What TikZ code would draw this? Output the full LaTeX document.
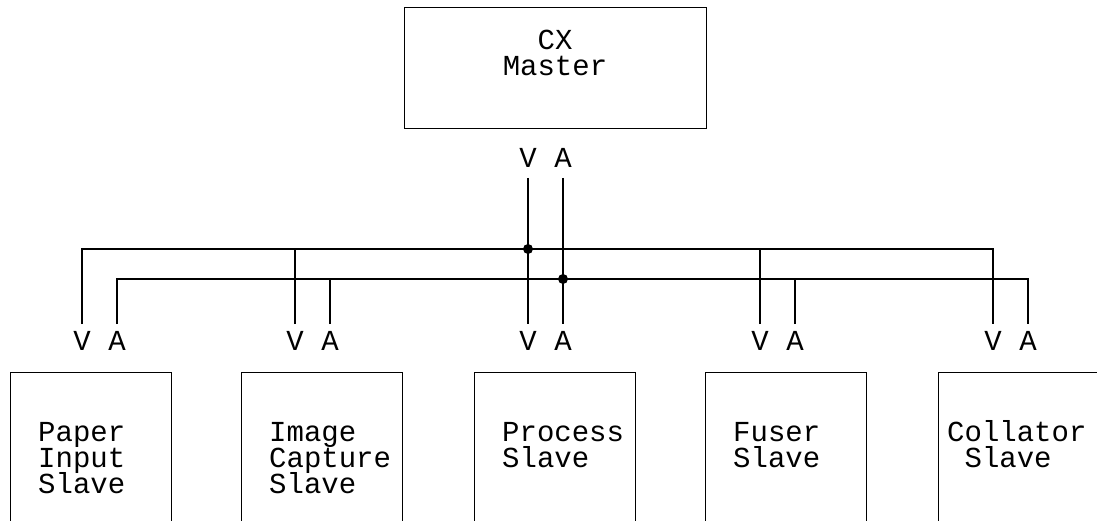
\documentclass[tikz,border=0pt]{standalone}
\usepackage{fontspec}
\newfontfamily\monoface{Liberation Mono}
% typewriter text with a fixed 26pt line pitch
\newcommand\typeface{\monoface\fontsize{29pt}{26pt}\selectfont\lineskiplimit=-100pt\lineskip=0pt}
\begin{document}
\begin{tikzpicture}[x=1pt,y=-1pt,
  wire/.style={line width=1.3pt},
  unitbox/.style={draw, line width=1.3pt, anchor=north west, minimum width=161pt, minimum height=149pt, inner sep=0pt},
  boxtext/.style={font=\typeface, align=left, anchor=base west, inner sep=0pt},
  sig/.style={font=\typeface, inner sep=0pt, outer ysep=10pt, text height=16pt, text depth=0pt},
  dot/.style={circle, fill, inner sep=0pt, minimum size=10pt}]
\useasboundingbox (0,0) rectangle (1097,521);

% master unit
\node[draw, line width=1.3pt, anchor=north west, minimum width=302pt, minimum height=121pt, inner sep=0pt] (master) at (404,7) {};
\node[font=\typeface, align=center, anchor=base, inner sep=0pt] (mastertext) at (555,76) {CX\\Master};
\node[sig] (mV) at (528,160) {V};
\node[sig] (mA) at (563,160) {A};

% slave units
\node[unitbox] (paper) at (10,372) {};
\node[unitbox] (image) at (241,372) {};
\node[unitbox] (process) at (474,372) {};
\node[unitbox] (fuser) at (705,372) {};
\node[unitbox] (collator) at (938,372) {};

% the base anchor sits on the last line
\node[boxtext] (papertext) at (38,493) {Paper\\Input\\Slave};
\node[boxtext] (imagetext) at (269,493) {Image\\Capture\\Slave};
\node[boxtext] (processtext) at (502,467) {Process\\Slave};
\node[boxtext] (fusertext) at (733,467) {Fuser\\Slave};
\node[boxtext] (collatortext) at (947,467) {Collator\\\hphantom{C}Slave};

% V / A terminals of the slaves
\foreach \n/\x in {p/82, i/295, r/528, f/760, c/993}{
  \node[sig] (\n V) at (\x,342) {V};
  \node[sig] (\n A) at (\x+35,342) {A};
}

% bus junctions
\coordinate (j1) at (528,249);
\coordinate (j2) at (563,279);

% V bus and A bus
\draw[wire] (pV.north) |- (j1) -| (cV.north);
\draw[wire] (pA.north) |- (j2) -| (cA.north);
\draw[wire] (iV.north) -- (iV.north |- j1);
\draw[wire] (iA.north) -- (iA.north |- j2);
\draw[wire] (fV.north) -- (fV.north |- j1);
\draw[wire] (fA.north) -- (fA.north |- j2);

% master to process slave
\draw[wire] (mV.south) -- (rV.north);
\draw[wire] (mA.south) -- (rA.north);
\node[dot] (d1) at (j1) {};
\node[dot] (d2) at (j2) {};
\end{tikzpicture}
\end{document}
